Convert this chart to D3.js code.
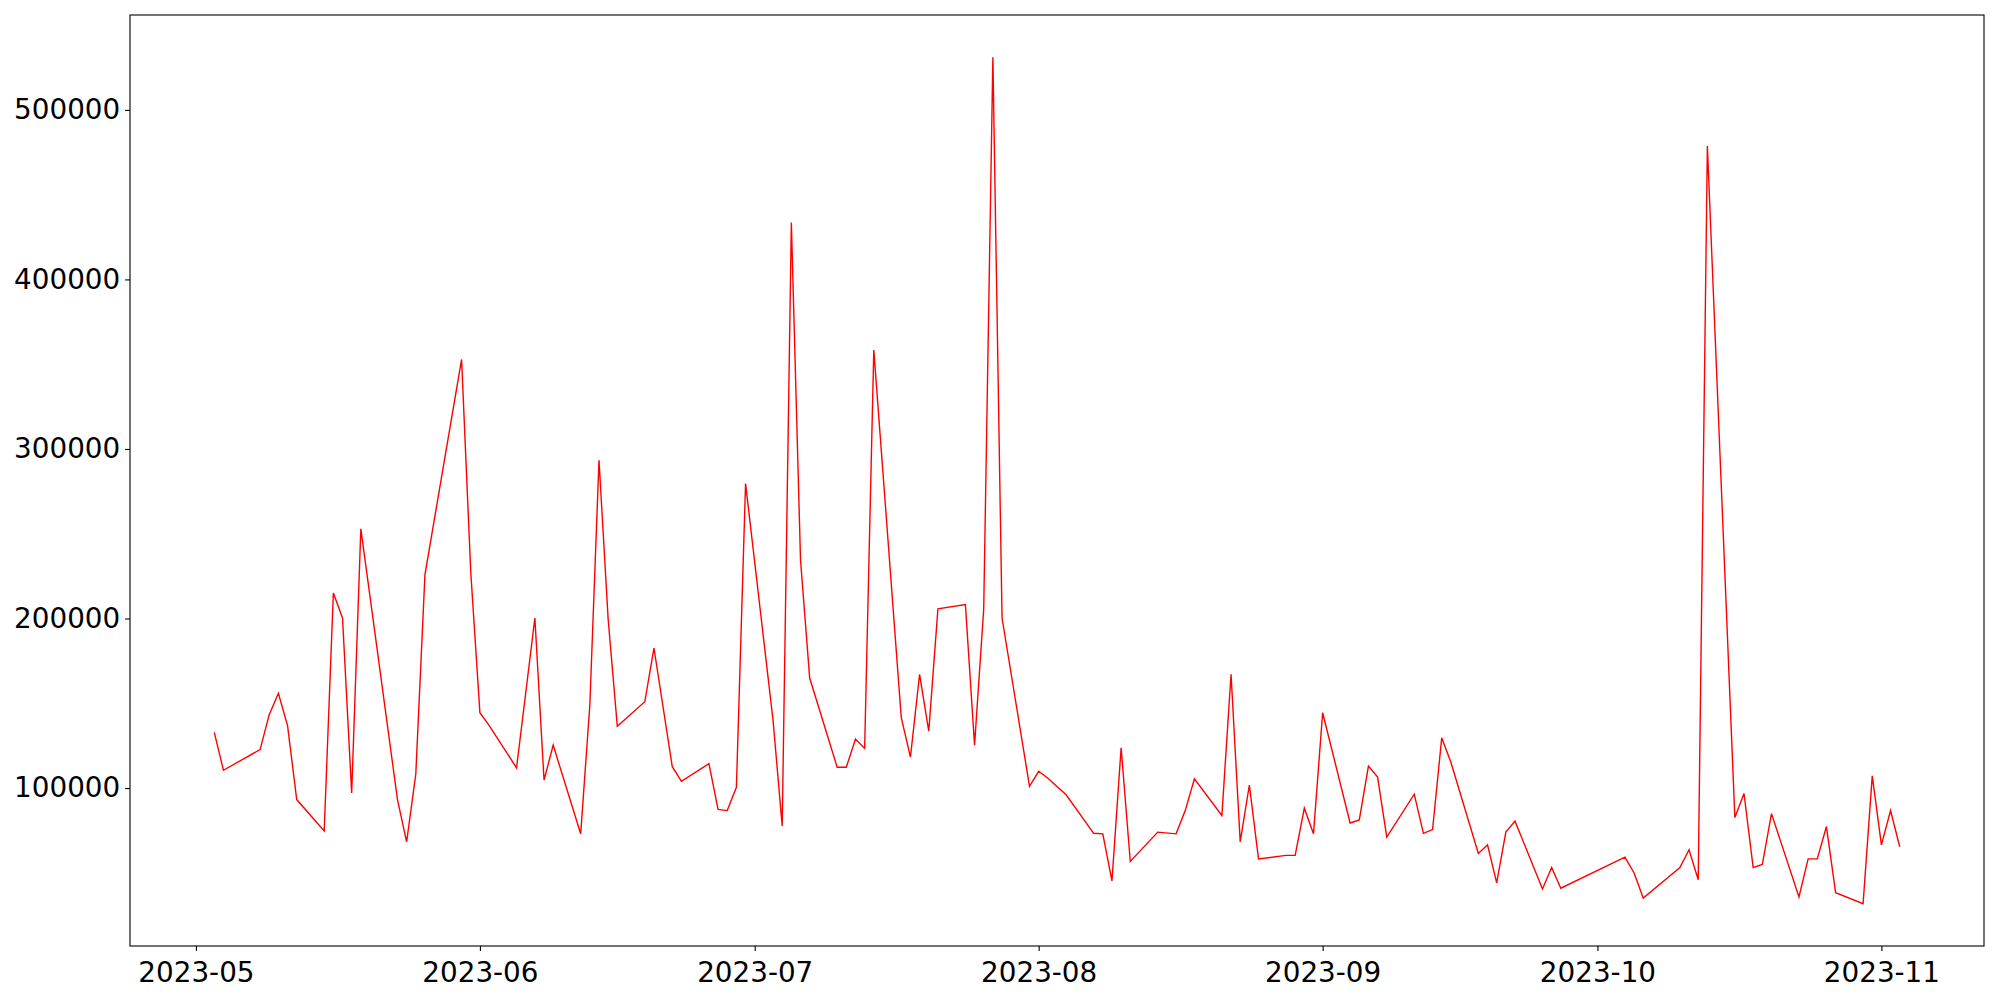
<!doctype html>
<html>
<head>
<meta charset="utf-8">
<script src="https://d3js.org/d3.v7.min.js"></script>
<style>
  body { margin: 0; background: #fff; }
  .chart text { font-family: "DejaVu Sans", sans-serif; font-size: 27.8px; fill: #000; }
</style>
</head>
<body>
<div class="chart"></div>

<script>
// daily values
var dates = [
  "2023-05-03","2023-05-04","2023-05-08","2023-05-09","2023-05-10","2023-05-11","2023-05-12",
  "2023-05-15","2023-05-16","2023-05-17","2023-05-18","2023-05-19","2023-05-23","2023-05-24",
  "2023-05-25","2023-05-26","2023-05-30","2023-05-31","2023-06-01","2023-06-02","2023-06-05",
  "2023-06-07","2023-06-08","2023-06-09","2023-06-12","2023-06-13","2023-06-14","2023-06-15",
  "2023-06-16","2023-06-19","2023-06-20","2023-06-22","2023-06-23","2023-06-26","2023-06-27",
  "2023-06-28","2023-06-29","2023-06-30","2023-07-03","2023-07-04","2023-07-05","2023-07-06",
  "2023-07-07","2023-07-10","2023-07-11","2023-07-12","2023-07-13","2023-07-14","2023-07-17",
  "2023-07-18","2023-07-19","2023-07-20","2023-07-21","2023-07-24","2023-07-25","2023-07-26",
  "2023-07-27","2023-07-28","2023-07-31","2023-08-01","2023-08-02","2023-08-04","2023-08-07",
  "2023-08-08","2023-08-09","2023-08-10","2023-08-11","2023-08-14","2023-08-16","2023-08-17",
  "2023-08-18","2023-08-21","2023-08-22","2023-08-23","2023-08-24","2023-08-25","2023-08-28",
  "2023-08-29","2023-08-30","2023-08-31","2023-09-01","2023-09-04","2023-09-05","2023-09-06",
  "2023-09-07","2023-09-08","2023-09-11","2023-09-12","2023-09-13","2023-09-14","2023-09-15",
  "2023-09-18","2023-09-19","2023-09-20","2023-09-21","2023-09-22","2023-09-25","2023-09-26",
  "2023-09-27","2023-10-04","2023-10-05","2023-10-06","2023-10-10","2023-10-11","2023-10-12",
  "2023-10-13","2023-10-16","2023-10-17","2023-10-18","2023-10-19","2023-10-20","2023-10-23",
  "2023-10-24","2023-10-25","2023-10-26","2023-10-27","2023-10-30","2023-10-31","2023-11-01",
  "2023-11-02","2023-11-03"
];

var values = [
  132800,110500,122700,143300,155900,136800,93200,
  74700,215100,200300,97100,252900,93200,68300,
  108300,225900,352800,227300,144400,137000,111900,
  200300,104700,125300,73000,149000,293300,199600,
  136400,150900,182600,112600,104000,114400,87400,
  86700,100400,279600,140000,77600,433600,234500,
  164900,112300,112300,128900,123400,358300,141500,
  118200,167100,133500,205700,208200,125300,205700,
  531000,200300,101000,109900,105800,96000,73300,
  73000,45200,123800,56700,74000,73000,86700,
  105400,83800,167100,68300,101800,58200,60300,
  60300,88100,73000,144400,79400,81200,113000,
  106500,71100,96400,73300,75500,129600,115200,
  61400,66500,44100,74000,80500,40500,53100,
  40900,59200,49900,35100,53100,63600,45900,
  478700,82700,96800,53100,54900,84900,35800,
  58200,58200,77300,38300,31800,107200,66500,
  86700,65400
];

var xTicks = ["2023-05-01","2023-06-01","2023-07-01","2023-08-01","2023-09-01","2023-10-01","2023-11-01"];
var yTicks = [100000, 200000, 300000, 400000, 500000];

var W = 2000, H = 1000;
var margin = {left: 130, right: 16, top: 15, bottom: 54};
var width = W - margin.left - margin.right;
var height = H - margin.top - margin.bottom;

var parse = d3.utcParse("%Y-%m-%d");
var data = dates.map(function(d, i){ return {date: parse(d), value: values[i]}; });

// matplotlib style 5% padding
var t0 = d3.min(data, function(d){ return +d.date; });
var t1 = d3.max(data, function(d){ return +d.date; });
var v0 = d3.min(values), v1 = d3.max(values);
var tp = (t1 - t0) * 0.05, vp = (v1 - v0) * 0.05;

var x = d3.scaleUtc().domain([new Date(t0 - tp), new Date(t1 + tp)]).range([0, width]);
var y = d3.scaleLinear().domain([v0 - vp, v1 + vp]).range([height, 0]);

var svg = d3.select(".chart").append("svg")
  .attr("width", W).attr("height", H);

var g = svg.append("g").attr("transform", "translate(" + margin.left + "," + margin.top + ")");

var line = d3.line()
  .x(function(d){ return x(d.date); })
  .y(function(d){ return y(d.value); });

g.append("path")
  .datum(data)
  .attr("d", line)
  .attr("fill", "none")
  .attr("stroke", "#ff0000")
  .attr("stroke-width", 1.4)
  .attr("stroke-linejoin", "miter");

var xAxis = d3.axisBottom(x)
  .tickValues(xTicks.map(parse))
  .tickFormat(d3.utcFormat("%Y-%m"))
  .tickSize(4.9).tickPadding(4.9);

var yAxis = d3.axisLeft(y)
  .tickValues(yTicks)
  .tickFormat(d3.format("d"))
  .tickSize(4.9).tickPadding(4.9);

var gx = g.append("g").attr("transform", "translate(0," + height + ")").call(xAxis);
var gy = g.append("g").call(yAxis);

[gx, gy].forEach(function(a){
  a.select(".domain").remove();
  a.selectAll("line").attr("stroke", "#000").attr("stroke-width", 1.1);
  a.selectAll("text").attr("fill", "#000").style("font-size", "27.8px");
});
gx.selectAll("text").attr("dy", "0.95em");

// frame
g.append("rect")
  .attr("width", width).attr("height", height)
  .attr("fill", "none").attr("stroke", "#000").attr("stroke-width", 1.1);
</script>
</body>
</html>
